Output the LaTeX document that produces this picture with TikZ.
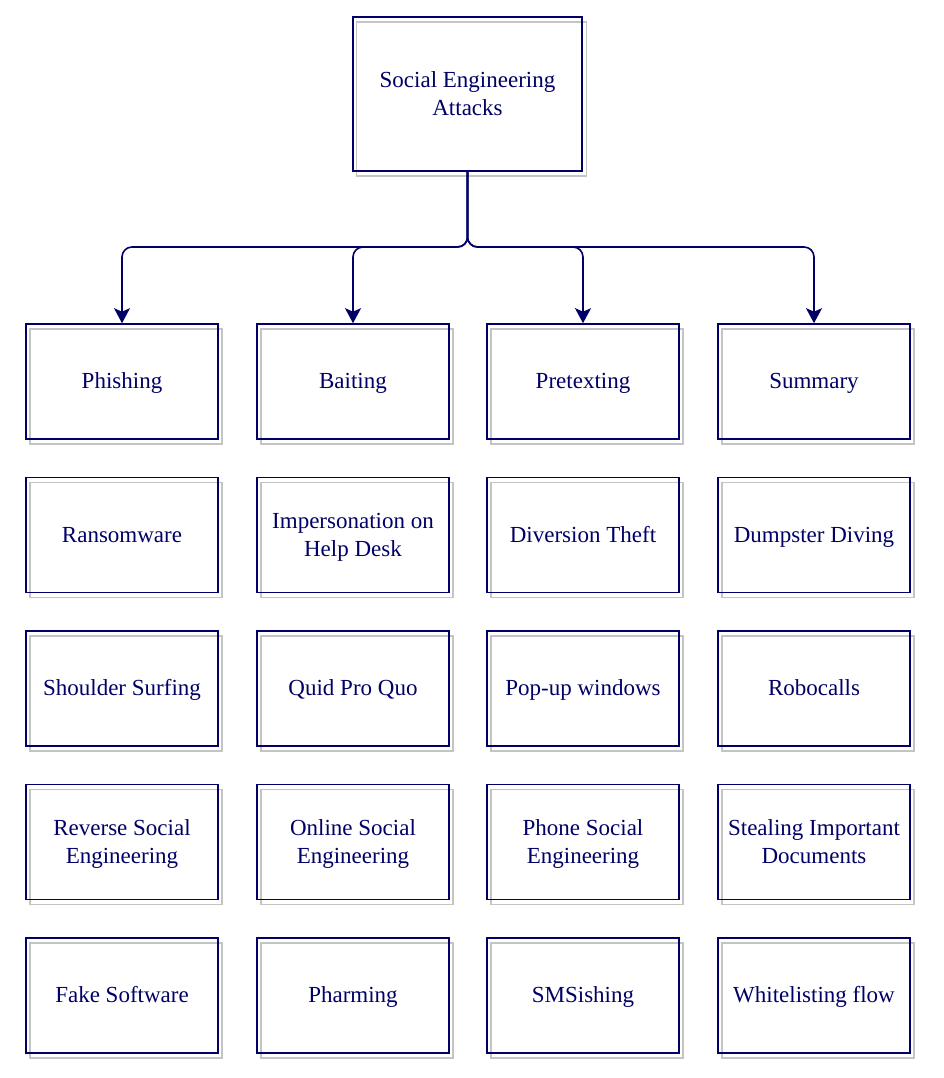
\documentclass[tikz,border=0pt]{standalone}
\usepackage{fontspec}
\setmainfont{Liberation Serif}
\usetikzlibrary{arrows.meta}
\definecolor{navy}{RGB}{0,0,102}
\definecolor{shgray}{RGB}{196,196,196}
\tikzset{
  boxnode/.style={draw=navy, line width=1.6pt, text=navy, inner sep=0pt,
    minimum width=192pt, minimum height=115pt, align=center,
    font=\fontsize{23}{28}\selectfont},
  topnode/.style={boxnode, minimum width=229pt, minimum height=154pt},
  lbl/.style={text=navy, inner sep=0pt, align=center,
    font=\fontsize{23}{28}\selectfont, yshift=-1.5pt},
  shadowline/.style={draw=shgray, line width=1.6pt},
  conn/.style={draw=navy, line width=1.6pt, rounded corners=10pt,
    -{Stealth[length=15pt, width=16pt, inset=3.5pt]}}
}
\newcommand\boxat[4]{%
  \draw[shadowline] (#2-96+4,#3-57.5+5) rectangle (#2+96+4,#3+57.5+5);
  \node[boxnode] (#1) at (#2,#3) {};
  \node[lbl] (#1t) at (#2,#3) {#4};}
\begin{document}
\begin{tikzpicture}[x=1pt,y=-1pt]
\useasboundingbox (0,0) rectangle (944,1078);
\draw[shadowline] (356.5,22) rectangle (586.5,176);
\node[topnode] (top) at (467.5,94) {};
\node[lbl] (topt) at (467.5,94) {\strut Social Engineering\\\strut Attacks};
% row 1
\boxat{a1}{122}{381.5}{\strut Phishing}
\boxat{b1}{353}{381.5}{\strut Baiting}
\boxat{c1}{583}{381.5}{\strut Pretexting}
\boxat{d1}{814}{381.5}{\strut Summary}
% row 2
\boxat{a2}{122}{535}{\strut Ransomware}
\boxat{b2}{353}{535}{\strut Impersonation on\\\strut Help Desk}
\boxat{c2}{583}{535}{\strut Diversion Theft}
\boxat{d2}{814}{535}{\strut Dumpster Diving}
% row 3
\boxat{a3}{122}{688.5}{\strut Shoulder Surfing}
\boxat{b3}{353}{688.5}{\strut Quid Pro Quo}
\boxat{c3}{583}{688.5}{\strut Pop-up windows}
\boxat{d3}{814}{688.5}{\strut Robocalls}
% row 4
\boxat{a4}{122}{842}{\strut Reverse Social\\\strut Engineering}
\boxat{b4}{353}{842}{\strut Online Social\\\strut Engineering}
\boxat{c4}{583}{842}{\strut Phone Social\\\strut Engineering}
\boxat{d4}{814}{842}{\strut Stealing Important\\\strut Documents}
% row 5
\boxat{a5}{122}{995.5}{\strut Fake Software}
\boxat{b5}{353}{995.5}{\strut Pharming}
\boxat{c5}{583}{995.5}{\strut SMSishing}
\boxat{d5}{814}{995.5}{\strut Whitelisting flow}
% connectors
\coordinate (split) at (467.5,247);
\foreach \t in {a1,b1,c1,d1}{
  \draw[conn] (top.south) -- (split) -| (\t.north);
}
\end{tikzpicture}
\end{document}
